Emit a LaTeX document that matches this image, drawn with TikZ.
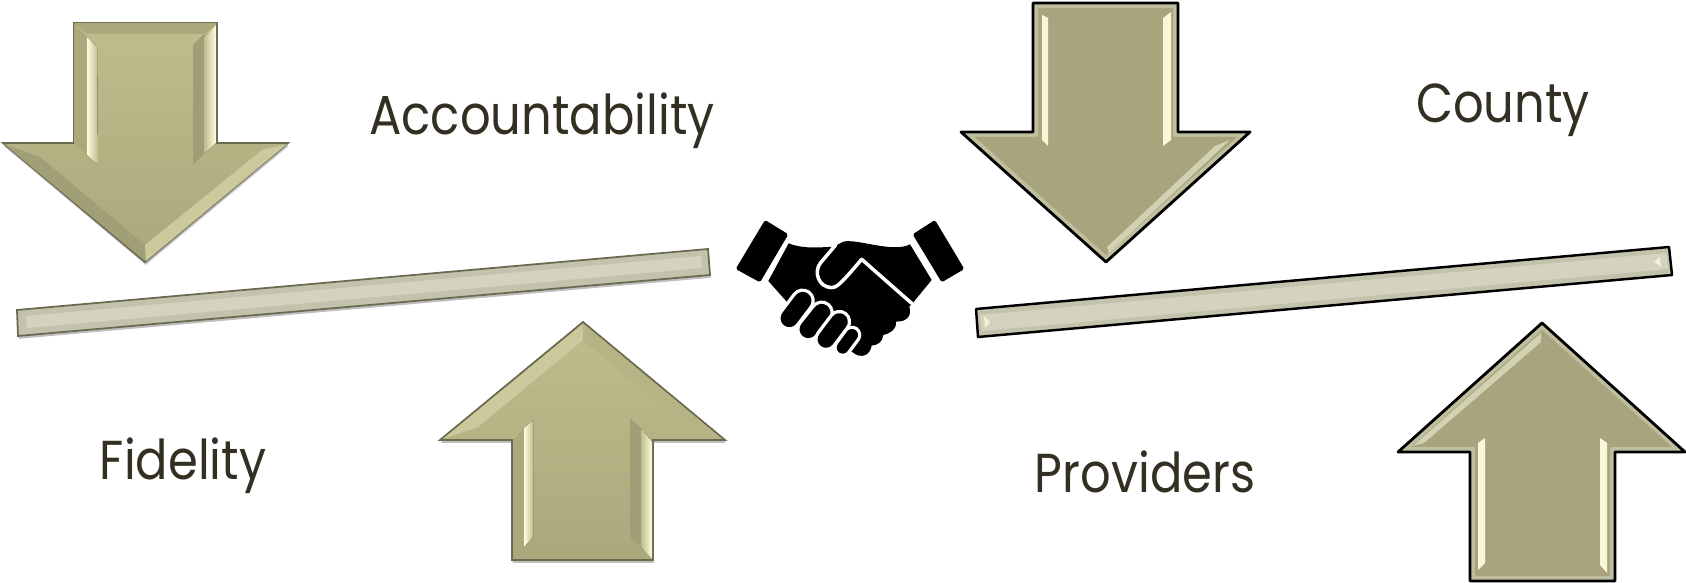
\documentclass[tikz,border=0pt]{standalone}
\usepackage{fontspec}
\setmainfont[FakeStretch=0.875]{Poppins}
\usetikzlibrary{shadows}
\definecolor{inkbrown}{HTML}{332F22}
\definecolor{olivetop}{HTML}{BFBD8C}
\definecolor{olivelow}{HTML}{ABA97C}
\definecolor{oliveflat}{HTML}{A8A57E}
\definecolor{olivepale}{HTML}{BFBE9E}
\definecolor{olivedark}{HTML}{A09E76}
\definecolor{oliveedge}{HTML}{6B6A50}
\definecolor{glint}{HTML}{FFFDDF}
\definecolor{beamlight}{HTML}{D4D3BF}
\definecolor{beammid}{HTML}{C3C2AC}
\tikzset{
	caption/.style = {anchor = base, text = inkbrown, font = \fontsize{15.6}{19}\selectfont},
	softarrow/.style = {top color = olivetop, bottom color = olivelow, draw = oliveedge, line width = 0.5pt,
		drop shadow = {shadow xshift = 0.2pt, shadow yshift = -0.8pt, fill = black, opacity = 0.25}},
	hardarrow/.style = {fill = olivepale, draw = black, line width = 0.8pt, line join = round},
	softbeam/.style = {fill = beammid, draw = oliveedge, line width = 0.5pt,
		drop shadow = {shadow xshift = 0.2pt, shadow yshift = -0.8pt, fill = black, opacity = 0.25}},
	hardbeam/.style = {fill = beammid, draw = black, line width = 0.7pt, line join = round},
	glintleft/.style = {left color = glint, right color = olivetop},
	glintright/.style = {left color = olivetop, right color = glint},
	hand/.style = {line cap = round, draw = black},
	handgap/.style = {line cap = round, draw = white}
}
\begin{document}
\begin{tikzpicture}[x = 0.01cm, y = -0.01cm]
	\useasboundingbox (0, 0) rectangle (1686, 583);

	\filldraw[softarrow] (74, 23) -- (217, 23) -- (217, 143) -- (288, 143) -- (145, 262) -- (3, 143) -- (74, 143) -- cycle;
	\fill[olivelow] (74, 23) -- (217, 23) -- (204, 34) -- (87, 34) -- cycle;
	\fill[olivelow] (74, 24) -- (87, 37) -- (87, 155) -- (74, 143) -- cycle;
	\fill[glintleft] (87, 37) -- (97, 47) -- (98, 165) -- (87, 155) -- cycle;
	\fill[olivedark] (193, 45) -- (204, 34) -- (204, 154) -- (193, 165) -- cycle;
	\fill[glintright] (204, 37) -- (216, 25) -- (216, 143) -- (204, 154) -- cycle;
	\fill[olivelow!94!black] (4, 144) -- (40, 157) -- (145, 245) -- (145, 261) -- cycle;
	\fill[olivetop!80!glint] (145, 245) -- (262, 150) -- (287, 144) -- (146, 261) -- cycle;

	\filldraw[softarrow] (583, 322) -- (725, 440) -- (653, 440) -- (653, 560) -- (512, 560) -- (512, 440) -- (440, 440) -- cycle;
	\fill[olivetop!80!glint] (583, 340) -- (583, 324) -- (443, 439) -- (478, 427) -- cycle;
	\fill[olivetop!95!black] (583, 340) -- (583, 324) -- (722, 439) -- (688, 427) -- cycle;
	\fill[olivelow] (513, 441) -- (524, 428) -- (524, 547) -- (513, 559) -- cycle;
	\fill[glintleft] (524, 428) -- (533, 420) -- (533, 537) -- (524, 547) -- cycle;
	\fill[olivedark] (630, 418) -- (641, 428) -- (641, 547) -- (630, 537) -- cycle;
	\fill[glintright] (641, 428) -- (652, 442) -- (652, 559) -- (641, 547) -- cycle;
	\fill[olivelow] (513, 559) -- (524, 547) -- (641, 547) -- (652, 559) -- cycle;

	\filldraw[hardarrow] (1033, 3) -- (1178, 3) -- (1178, 132) -- (1250, 132) -- (1106, 262) -- (961, 132) -- (1033, 132) -- cycle;
	\fill[oliveflat] (1038, 8) -- (1173, 8) -- (1173, 137) -- (1237, 137) -- (1106, 255) -- (975, 137) -- (1038, 137) -- cycle;
	\fill[glint!90!olivetop] (1042, 15) -- (1048, 18) -- (1048, 146) -- (1042, 140) -- cycle;
	\fill[glint!90!olivetop] (1163, 18) -- (1171, 12) -- (1171, 140) -- (1163, 146) -- cycle;
	\fill[olivepale!70!glint] (1107, 247) -- (1215, 146) -- (1230, 140) -- (1109, 253) -- cycle;

	\filldraw[hardarrow] (1542, 323) -- (1685, 452) -- (1615, 452) -- (1615, 581) -- (1470, 581) -- (1470, 452) -- (1398, 452) -- cycle;
	\fill[oliveflat] (1542, 330) -- (1672, 447) -- (1610, 447) -- (1610, 576) -- (1475, 576) -- (1475, 447) -- (1411, 447) -- cycle;
	\fill[glint!90!olivetop] (1478, 443) -- (1485, 438) -- (1485, 563) -- (1478, 570) -- cycle;
	\fill[glint!90!olivetop] (1600, 438) -- (1607, 443) -- (1607, 573) -- (1600, 565) -- cycle;
	\fill[olivepale!70!glint] (1541, 333) -- (1541, 342) -- (1424, 443) -- (1413, 446) -- cycle;

	\filldraw[softbeam] (17, 310) -- (708, 249) -- (710, 275) -- (18, 336) -- cycle;
	\fill[beamlight] (26, 316) -- (701, 256) -- (702, 268) -- (27, 328) -- cycle;

	\filldraw[hardbeam] (976, 309) -- (1669, 247) -- (1672, 275) -- (978, 337) -- cycle;
	\fill[beamlight] (980, 315) -- (1666, 253) -- (1668, 269) -- (982, 331) -- cycle;
	\fill[glint!70!beamlight] (984, 316) -- (990, 322) -- (985, 328) -- cycle;
	\fill[glint!70!beamlight] (1660, 257) -- (1654, 262) -- (1661, 267) -- cycle;

	\node[caption] (accountability) at (542, 135) {Accountability};
	\node[caption] (fidelity) at (183, 480) {Fidelity};
	\node[caption] (providers) at (1145, 493) {Providers};
	\node[caption] (county) at (1503, 123) {County};

	\begin{scope}[shift = {(720, 200)}, scale = 0.3333]
		\fill[rounded corners = 0.5pt] (135, 60) -- (205, 103) -- (120, 247) -- (47, 207) -- cycle;
		\fill[rounded corners = 0.5pt] (645, 60) -- (733, 207) -- (665, 247) -- (578, 103) -- cycle;
		\fill (206, 130) .. controls (250, 148) and (300, 142) .. (342, 140) -- (370, 125) .. controls (410, 115) and (520, 160) .. (570, 133)
			-- (635, 240) -- (580, 307) -- (568, 320) .. controls (575, 345) and (565, 365) .. (528, 365)
			.. controls (530, 390) and (510, 400) .. (490, 405) .. controls (488, 425) and (475, 435) .. (455, 437)
			.. controls (450, 465) and (425, 480) .. (395, 455) -- (200, 305) -- (145, 243) -- cycle;
		\draw[handgap, line width = 1pt, line join = round] (347, 135) -- (302, 188) .. controls (280, 215) and (295, 262) .. (335, 263)
			.. controls (350, 263) and (362, 252) .. (425, 178) -- (575, 310);
		\foreach \xa/\ya/\xb/\yb/\fingerwidth in {208/355/248/302/5.0, 265/388/305/338/5.0, 318/418/358/365/4.8, 368/443/396/405/3.4} {
			\draw[handgap, line width = \fingerwidth pt + 1.9pt] (\xa, \ya) -- (\xb, \yb);
			\draw[hand, line width = \fingerwidth pt] (\xa, \ya) -- (\xb, \yb);
		}
	\end{scope}
\end{tikzpicture}
\end{document}
